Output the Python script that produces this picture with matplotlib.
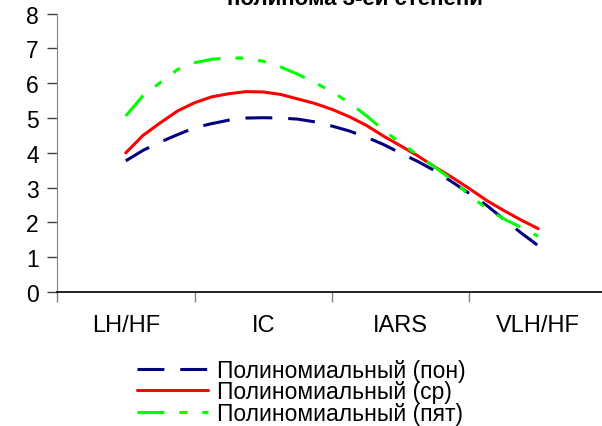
import matplotlib
matplotlib.use('Agg')
import matplotlib.pyplot as plt

plt.rcParams['font.family'] = ['Liberation Sans', 'DejaVu Sans']

# Category axis
categories = ['LH/HF', 'IC', 'IARS', 'VLH/HF']
cat_pos = [1, 2, 3, 4]

# Trendline curves (x in category units, step 1/8)
x_grid = [1.0, 1.125, 1.25, 1.375, 1.5, 1.625, 1.75, 1.875, 2.0,
          2.125, 2.25, 2.375, 2.5, 2.625, 2.75, 2.875, 3.0,
          3.125, 3.25, 3.375, 3.5, 3.625, 3.75, 3.875, 4.0]
pon = [3.77, 4.07, 4.31, 4.52, 4.72, 4.84, 4.94, 5.00, 5.01,
       5.00, 4.97, 4.89, 4.77, 4.63, 4.45, 4.24, 3.99,
       3.75, 3.48, 3.16, 2.83, 2.49, 2.09, 1.70, 1.33]
sr = [4.00, 4.50, 4.86, 5.20, 5.44, 5.61, 5.70, 5.76, 5.75,
      5.68, 5.55, 5.42, 5.25, 5.04, 4.79, 4.48, 4.20,
      3.91, 3.59, 3.29, 2.97, 2.63, 2.34, 2.07, 1.82]
pyat = [5.06, 5.64, 6.02, 6.39, 6.59, 6.69, 6.73, 6.72, 6.63,
        6.47, 6.26, 6.02, 5.76, 5.44, 5.07, 4.65, 4.28,
        3.94, 3.58, 3.22, 2.78, 2.40, 2.10, 1.86, 1.60]

labels = ['Полиномиальный (пон)', 'Полиномиальный (ср)', 'Полиномиальный (пят)']

fig = plt.figure(figsize=(6.02, 4.27), dpi=100)
fig.patch.set_facecolor('white')
ax = fig.add_axes([0.0947, 0.3138, 0.9136, 0.6518])

ax.plot(x_grid, pon, color='#000080', linewidth=2.2, dashes=(8.8, 5.2), label=labels[0])
ax.plot(x_grid, sr, color='#FF0000', linewidth=2.2, solid_capstyle='round', label=labels[1])
ax.plot(x_grid, pyat, color='#00FF00', linewidth=2.2,
        dashes=(8.8, 4.9, 2.6, 4.9, 2.6, 4.9), label=labels[2])

ax.set_xlim(0.5, 4.5)
ax.set_ylim(0, 8)
ax.set_yticks(range(0, 9))
ax.set_xticks(cat_pos)
ax.set_xticklabels(categories)
ax.set_xticks([0.5, 1.5, 2.5, 3.5], minor=True)

ax.tick_params(axis='x', which='major', length=0, labelsize=17, pad=16)
ax.tick_params(axis='x', which='minor', length=7, width=1, color='#808080', direction='out')
ax.tick_params(axis='y', length=7, width=1, color='#404040', direction='out',
               labelsize=16.5, pad=6)

ax.spines['top'].set_visible(False)
ax.spines['right'].set_visible(False)
ax.spines['left'].set_color('#808080')
ax.spines['bottom'].set_color('black')
ax.spines['bottom'].set_linewidth(1.2)

# Title (cut off at the top edge in the original)
fig.text(355 / 602, 1 - 5 / 427, 'полинома 3-ей степени', ha='center', va='baseline',
         fontsize=16, fontweight='bold')

leg = fig.legend(loc='center left', bbox_to_anchor=(137 / 602, 1 - 393 / 427),
                 frameon=False, fontsize=16.5, handlelength=3.1, handletextpad=0.4,
                 labelspacing=-0.07, borderpad=0, borderaxespad=0)

plt.savefig('out.png', dpi=100, facecolor='white')
plt.close()
